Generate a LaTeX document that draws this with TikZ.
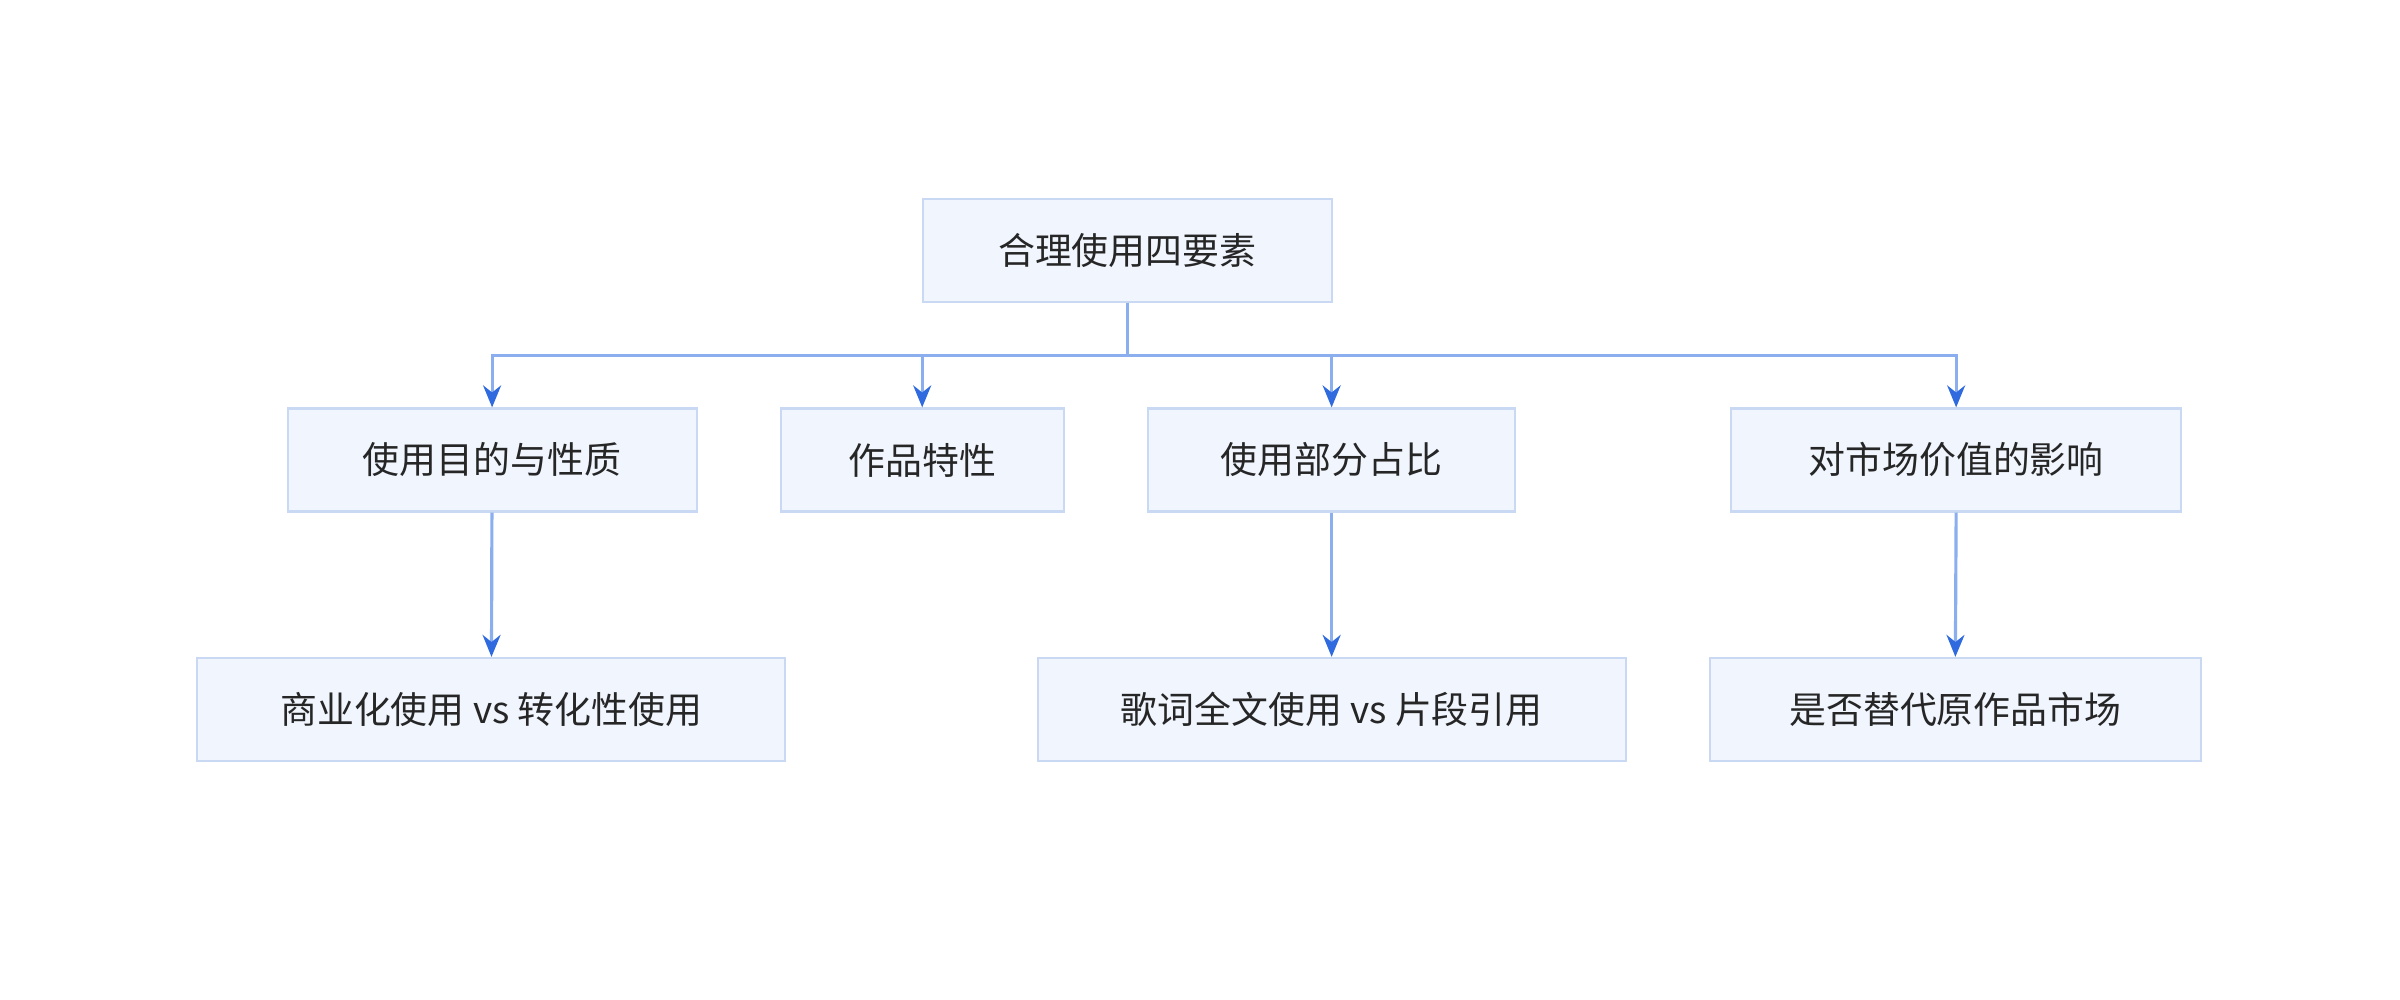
\documentclass[tikz,border=0pt]{standalone}
\usepackage{fontspec}
\setmainfont{Noto Sans CJK SC}
\usetikzlibrary{arrows.meta}
\definecolor{boxfill}{HTML}{F0F5FE}
\definecolor{boxline}{HTML}{C9D8F3}
\definecolor{linkline}{HTML}{8AAEEE}
\definecolor{tipblue}{HTML}{2F6BDE}
\tikzset{
  box/.style={draw=boxline, fill=boxfill, line width=0.6pt, minimum height=1.03cm,
    inner sep=0pt, font=\fontsize{10.5pt}{12pt}\selectfont, text=black!85},
  link/.style={draw=linkline, line width=0.9pt, -{Stealth[length=2.2mm, width=1.8mm, color=tipblue]}}
}
\begin{document}
\begin{tikzpicture}[x=0.01531cm, y=-0.01531cm]
        \useasboundingbox (0,0) rectangle (1568,653);
        % Top node
        \node[box, minimum width=4.09cm] (root) at (736.5,163.5) {合理使用四要素};
        % Four factors
        \node[box, minimum width=4.09cm] (purpose) at (321.5,300.5) {使用目的与性质};
        \node[box, minimum width=2.83cm] (nature) at (602.5,300.5) {作品特性};
        \node[box, minimum width=3.67cm] (amount) at (870,300.5) {使用部分占比};
        \node[box, minimum width=4.50cm] (market) at (1278,300.5) {对市场价值的影响};
        % Details
        \node[box, minimum width=5.88cm] (purposeD) at (321,463.5) {商业化使用 vs 转化性使用};
        \node[box, minimum width=5.88cm] (amountD) at (870,463.5) {歌词全文使用 vs 片段引用};
        \node[box, minimum width=4.91cm] (marketD) at (1277.5,463.5) {是否替代原作品市场};
        % Connectors
        \coordinate (bus) at (736.5,232);
        \foreach \n in {purpose,nature,amount,market}{
            \draw[link] (root.south) -- (bus) -| (\n.north);
        }
        \draw[link] (purpose) -- (purposeD);
        \draw[link] (amount) -- (amountD);
        \draw[link] (market.south) -- (marketD.north);
    \end{tikzpicture}
\end{document}
